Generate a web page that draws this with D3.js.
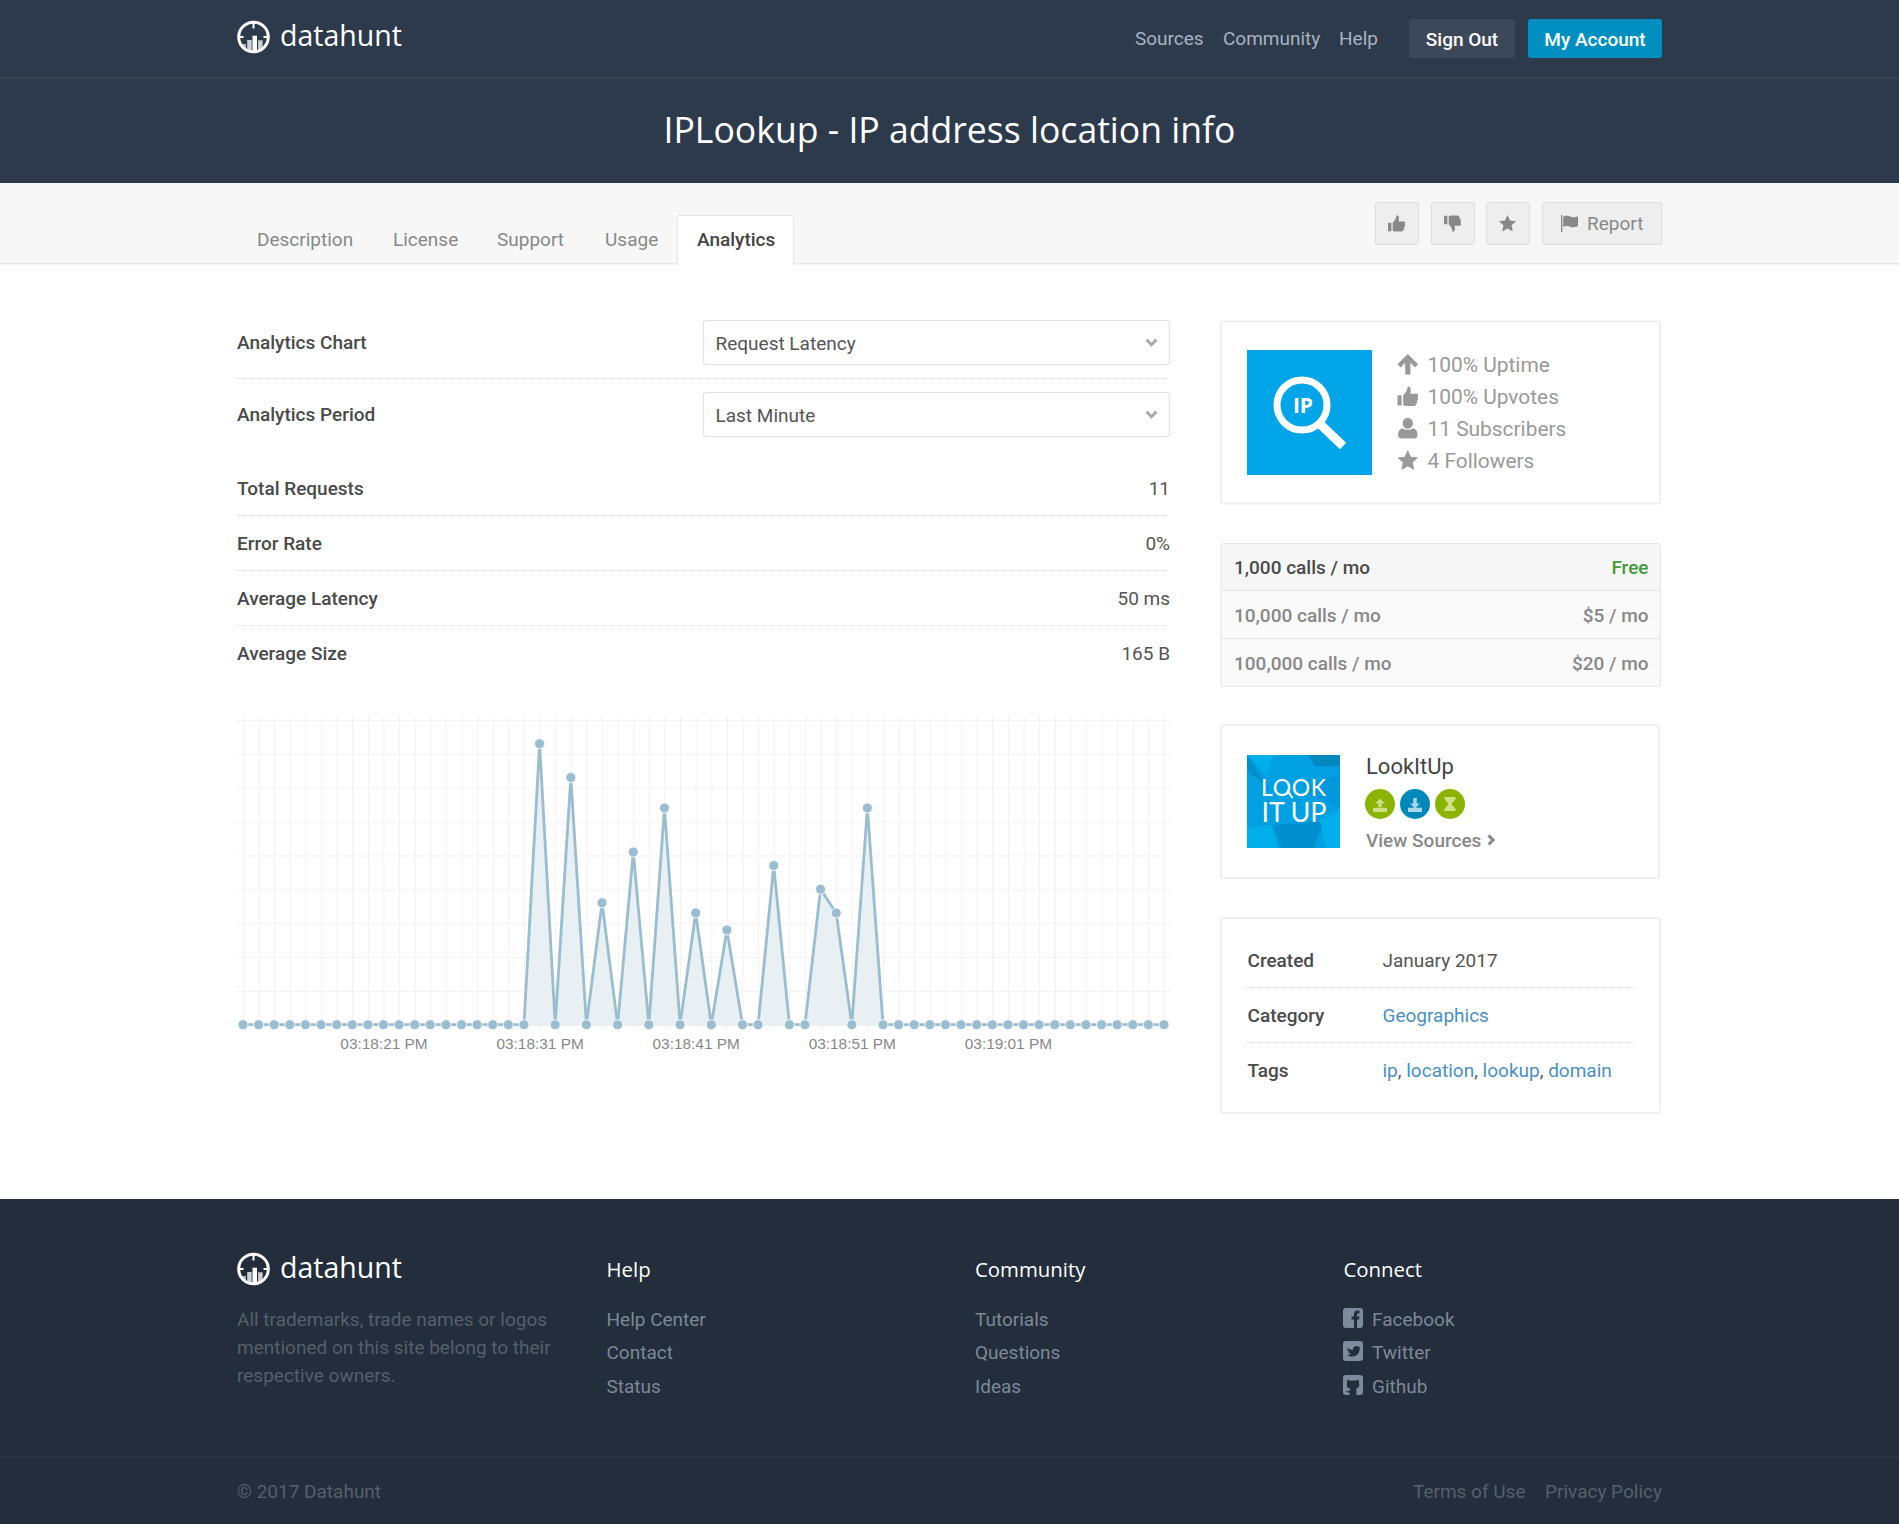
<!DOCTYPE html>
<html>
<head>
<meta charset="utf-8">
<title>IPLookup - Analytics</title>
<script src="https://d3js.org/d3.v7.min.js"></script>
<style>
html, body { margin: 0; padding: 0; background: #fff; }
svg { display: block; }
text { font-family: Roboto, sans-serif; }
.head { font-family: "Open Sans", sans-serif; }
.grid line { stroke: #f2f2f2; stroke-width: 1; }
.grid path { display: none; }
</style>
</head>
<body>
<div id="page"></div>
<script>
// chart data
var times = [
    "03:18:12 PM", "03:18:13 PM", "03:18:14 PM", "03:18:15 PM", "03:18:16 PM", "03:18:17 PM",
    "03:18:18 PM", "03:18:19 PM", "03:18:20 PM", "03:18:21 PM", "03:18:22 PM", "03:18:23 PM",
    "03:18:24 PM", "03:18:25 PM", "03:18:26 PM", "03:18:27 PM", "03:18:28 PM", "03:18:29 PM",
    "03:18:30 PM", "03:18:31 PM", "03:18:32 PM", "03:18:33 PM", "03:18:34 PM", "03:18:35 PM",
    "03:18:36 PM", "03:18:37 PM", "03:18:38 PM", "03:18:39 PM", "03:18:40 PM", "03:18:41 PM",
    "03:18:42 PM", "03:18:43 PM", "03:18:44 PM", "03:18:45 PM", "03:18:46 PM", "03:18:47 PM",
    "03:18:48 PM", "03:18:49 PM", "03:18:50 PM", "03:18:51 PM", "03:18:52 PM", "03:18:53 PM",
    "03:18:54 PM", "03:18:55 PM", "03:18:56 PM", "03:18:57 PM", "03:18:58 PM", "03:18:59 PM",
    "03:19:00 PM", "03:19:01 PM", "03:19:02 PM", "03:19:03 PM", "03:19:04 PM", "03:19:05 PM",
    "03:19:06 PM", "03:19:07 PM", "03:19:08 PM", "03:19:09 PM", "03:19:10 PM", "03:19:11 PM"
];
var latency = [
    0, 0, 0, 0, 0, 0, 0, 0, 0, 0, 0, 0, 0, 0, 0, 0, 0, 0, 0,
    83, 0, 73, 0, 36, 0, 51, 0, 64, 0, 33, 0, 28, 0, 0, 47, 0, 0, 40, 33, 0, 64,
    0, 0, 0, 0, 0, 0, 0, 0, 0, 0, 0, 0, 0, 0, 0, 0, 0, 0, 0
];
var tickLabels = ["03:18:21 PM", "03:18:31 PM", "03:18:41 PM", "03:18:51 PM", "03:19:01 PM"];
var yTicks = [0, 10, 20, 30, 40, 50, 60, 70, 80, 90];

// page text
var navLinks = ["Sources", "Community", "Help"];
var tabs = ["Description", "License", "Support", "Usage", "Analytics"];
var statLabels = ["Total Requests", "Error Rate", "Average Latency", "Average Size"];
var statValues = ["11", "0%", "50 ms", "165 B"];
var apiStats = ["100% Uptime", "100% Upvotes", "11 Subscribers", "4 Followers"];
var planNames = ["1,000 calls / mo", "10,000 calls / mo", "100,000 calls / mo"];
var planPrices = ["Free", "$5 / mo", "$20 / mo"];
var footerHeads = ["Help", "Community", "Connect"];
var footerLinks = [
    ["Help Center", "Contact", "Status"],
    ["Tutorials", "Questions", "Ideas"],
    ["Facebook", "Twitter", "Github"]
];
var footerNote = ["All trademarks, trade names or logos", "mentioned on this site belong to their", "respective owners."];

var svgWidth = 1899;
var svgHeight = 1524;

var svg = d3.select("#page")
    .append("svg")
    .attr("width", svgWidth)
    .attr("height", svgHeight);

function rect(x, y, w, h, fill, stroke, sw, r) {
    return svg.append("rect")
        .attr("x", x).attr("y", y).attr("width", w).attr("height", h)
        .attr("rx", r || 0)
        .attr("fill", fill)
        .attr("stroke", stroke || "none")
        .attr("stroke-width", sw || 0);
}

function label(x, y, str, size, color, weight, anchor, cls) {
    return svg.append("text")
        .attr("x", x).attr("y", y)
        .attr("class", cls || null)
        .style("font-size", size + "px")
        .style("font-weight", weight || 400)
        .style("fill", color)
        .style("text-anchor", anchor || "start")
        .text(str);
}

function dotted(x1, x2, y) {
    svg.append("line")
        .attr("x1", x1).attr("x2", x2).attr("y1", y).attr("y2", y)
        .attr("stroke", "#d8d8d8")
        .attr("stroke-dasharray", "1 1");
}

function icon(x, y, s, d, color) {
    svg.append("path")
        .attr("transform", `translate(${x},${y}) scale(${s})`)
        .attr("d", d)
        .attr("fill", color);
}

// 20x20 icon shapes
var starPath = "M10 0 L13 6.6 L20 7.4 L14.8 12.2 L16.2 19.4 L10 15.8 L3.8 19.4 L5.2 12.2 L0 7.4 L7 6.6 Z";
var thumbUp = "M0 9 H4 V19 H0 Z M5.5 9 C8 7 9.5 4 10 0.5 C12.5 0 13.5 2.5 12.5 7.5 H18.5 C20.5 7.5 20.5 10 19.5 10.5 C20.5 12 20 13.5 19 14 C19.5 15.5 19 17 18 17.2 C18 18.8 17 19.5 15.5 19.5 H9 C7.5 19.5 6.5 19 5.5 18.5 Z";
var thumbDown = "M0 1 H4 V11 H0 Z M5.5 11 C8 13 9.5 16 10 19.5 C12.5 20 13.5 17.5 12.5 12.5 H18.5 C20.5 12.5 20.5 10 19.5 9.5 C20.5 8 20 6.5 19 6 C19.5 4.5 19 3 18 2.8 C18 1.2 17 0.5 15.5 0.5 H9 C7.5 0.5 6.5 1 5.5 1.5 Z";
var arrowUp = "M10 0 L20 10 L17 13 L12.5 8.5 V20 H7.5 V8.5 L3 13 L0 10 Z";
var userPath = "M10 0 C13 0 15 2.4 15 5.2 C15 8 13 10.4 10 10.4 C7 10.4 5 8 5 5.2 C5 2.4 7 0 10 0 Z M5 10 C7.5 12 12.5 12 15 10 C18 10.5 19.5 13 19.5 16.5 C19.5 18.5 18 20 16 20 H4 C2 20 0.5 18.5 0.5 16.5 C0.5 13 2 10.5 5 10 Z";
var flagPath = "M0 0 H1.6 V20 H0 Z M2.6 2 C6 0 9 1 11 2 C14 3 17 2.6 20 1.4 V13 C17 14.4 14 15 11 14 C9 13 6 12 2.6 14 Z";
var chevronDown = "M2 5 L5 2 L10 7.5 L15 2 L18 5 L10 13 Z";
var chevronRight = "M5 2 L8 -1 L16 7 L8 15 L5 12 L10 7 Z";
var socialGlyphs = [
    "M11 20 V11.5 H8.5 V8.5 H11 V6 C11 3.5 12.5 2.5 14.5 2.5 H16.5 V5.5 H15 C14.2 5.5 14 6 14 6.8 V8.5 H16.5 L16 11.5 H14 V20 Z",
    "M3.5 6 C5.5 8 7.5 9 10 9 C9.8 6.5 11.5 5 13.2 5 C14.2 5 15 5.4 15.5 6 L17 5.5 L16.4 7 L17.5 6.8 L16.6 8 C16.8 12 13.5 15.5 9.5 15.5 C7.2 15.5 5.5 15 4 14 C5.5 14 7 13.6 8 12.8 C6.8 12.7 5.8 12 5.4 11 L6.6 11 C5.2 10.4 4.4 9.4 4.4 8 L5.6 8.4 C4.4 7.6 3.8 7 3.5 6 Z",
    "M4 8 L4.4 4.5 L7.5 5.8 C9 5.4 11 5.4 12.5 5.8 L15.6 4.5 L16 8 C17 11 15.5 13.4 12.6 13.8 C13.2 14.4 13.4 15 13.4 16 V20 H6.6 V17.6 C5 18 3.8 17.4 3 15.6 L5 16.2 L6.6 15.8 C6.6 15 6.8 14.4 7.4 13.8 C4.5 13.4 3 11 4 8 Z"
];

function logo(cx, cy, baseline) {
    var g = svg.append("g").attr("transform", `translate(${cx},${cy})`);
    var clipId = "logo-clip-" + cy;
    g.append("clipPath").attr("id", clipId).append("circle").attr("r", 14.5);
    g.append("g").attr("clip-path", `url(#${clipId})`)
        .selectAll("rect")
        .data([[-12, 7, "#aab1ba"], [-6.3, 3, "#ccd1d6"], [-1, -1.3, "#ffffff"], [4.6, 3.3, "#ccd1d6"]])
        .enter().append("rect")
        .attr("x", d => d[0]).attr("y", d => d[1])
        .attr("width", 4.5).attr("height", 20)
        .attr("fill", d => d[2]);
    g.append("circle").attr("r", 14.8).attr("fill", "none").attr("stroke", "#fff").attr("stroke-width", 3);
    g.append("path").attr("d", "M0 -15 V-8.5 M-15 0 H-10 M15 0 H10").attr("stroke", "#fff").attr("stroke-width", 2);
    label(cx + 26.5, baseline, "datahunt", 28.5, "#fff", 400, "start", "head");
}

// header
rect(0, 0, svgWidth, 183, "#2d3a4c");
rect(0, 77, svgWidth, 2, "#35424f");
logo(253.5, 37, 46);
navLinks.forEach(function (d, i) {
    label([1135, 1223, 1339][i], 45, d, 19, "#a7b3c1");
});
rect(1409, 19, 106, 39, "#3c4759", null, 0, 3);
label(1462, 46, "Sign Out", 19, "#fff", 500, "middle");
rect(1528, 19, 134, 39, "#008fc0", null, 0, 3);
label(1595, 46, "My Account", 19, "#fff", 500, "middle");
label(949.5, 143, "IPLookup - IP address location info", 35.6, "#fff", 400, "middle", "head");

// tab bar
rect(0, 183, svgWidth, 80, "#f7f7f7");
rect(0, 263, svgWidth, 1.5, "#e6e6e6");
rect(677.5, 215.5, 116, 50, "#fff", "#e6e6e6", 1, 2);
rect(678, 262, 115, 4, "#fff");
tabs.forEach(function (d, i) {
    label([257, 393, 497, 605, 697][i], 246, d, 19, i == 4 ? "#444" : "#888", i == 4 ? 500 : 400);
});

// vote buttons
[[1375, 43], [1431, 43], [1486, 43], [1542, 119.5]].forEach(function (b) {
    rect(b[0] + 0.5, 202.5, b[1], 42, "#eeeeee", "#dddddd", 1, 2);
});
icon(1388, 215, 0.85, thumbUp, "#888");
icon(1444, 215, 0.85, thumbDown, "#888");
icon(1499, 215, 0.85, starPath, "#888");
icon(1561, 215, 0.85, flagPath, "#888");
label(1587, 230, "Report", 19, "#888");

// select boxes and stats
["Analytics Chart", "Analytics Period"].forEach(function (d, i) {
    var top = [320, 392][i];
    label(237, top + 29, d, 19, "#4a4a4a", 500);
    rect(703.5, top + 0.5, 466, 44, "#fff", "#e2e2e2", 1.2, 3);
    label(715.5, top + 30, ["Request Latency", "Last Minute"][i], 19, "#555");
    icon(1144, top + 17, 0.75, chevronDown, "#aaa");
});
dotted(237, 1169, 378.5);
statLabels.forEach(function (d, i) {
    var y = 495 + i * 55;
    label(237, y, d, 19, "#4a4a4a", 500);
    label(1170, y, statValues[i], 19, "#555", 400, "end");
    if (i < 3) dotted(237, 1169, y + 20.5);
});

// chart
var chartLeft = 243;
var chartRight = 1164;
var chartTop = 720;
var chartBottom = 1024.7;

var xScale = d3.scalePoint()
    .domain(times)
    .range([chartLeft, chartRight]);

var yScale = d3.scaleLinear()
    .domain([0, 90])
    .range([chartBottom, chartTop]);

var bottomAxis = d3.axisBottom(xScale)
    .tickValues(times)
    .tickSize(0)
    .tickFormat(d => tickLabels.includes(d) ? d : "");

var leftAxis = d3.axisLeft(yScale)
    .tickValues(yTicks)
    .tickSize(chartRight - chartLeft + 12)
    .tickFormat("");

svg.append("g")
    .attr("class", "grid")
    .attr("transform", `translate(${chartRight + 6}, 0)`)
    .call(leftAxis);

var xAxis = svg.append("g")
    .attr("class", "grid")
    .attr("transform", `translate(0, ${chartBottom})`)
    .call(bottomAxis);

xAxis.selectAll("line")
    .attr("y1", 5)
    .attr("y2", chartTop - chartBottom - 4);

xAxis.selectAll("text")
    .attr("y", 24)
    .attr("dy", 0)
    .style("font-family", "'Liberation Sans', Arial, sans-serif")
    .style("font-size", "15.4px")
    .style("fill", "#888");

var area = d3.area()
    .x((d, i) => xScale(times[i]))
    .y0(chartBottom + 1)
    .y1(d => yScale(d));

var line = d3.line()
    .x((d, i) => xScale(times[i]))
    .y(d => yScale(d));

svg.append("path")
    .datum(latency)
    .attr("d", area)
    .attr("fill", "#e9f0f4");

svg.append("path")
    .datum(latency)
    .attr("d", line)
    .attr("fill", "none")
    .attr("stroke", "#9abdd0")
    .attr("stroke-width", 2.8);

svg.selectAll(".point")
    .data(latency)
    .enter()
    .append("circle")
    .attr("class", "point")
    .attr("cx", (d, i) => xScale(times[i]))
    .attr("cy", d => yScale(d))
    .attr("r", 5)
    .attr("fill", "#9abdd0")
    .attr("stroke", "#f4f8fa")
    .attr("stroke-width", 1);

// API card
rect(1221, 321.5, 439, 182, "#fff", "#f0f0f0", 2, 2);
rect(1247, 350, 125, 125, "#03a5e9");
svg.append("circle").attr("cx", 1302).attr("cy", 405).attr("r", 25)
    .attr("fill", "none").attr("stroke", "#fff").attr("stroke-width", 7);
svg.append("line").attr("x1", 1320).attr("y1", 424).attr("x2", 1343).attr("y2", 446)
    .attr("stroke", "#fff").attr("stroke-width", 9);
label(1303, 413, "IP", 21, "#fff", 700, "middle", "head");
[arrowUp, thumbUp, userPath, starPath].forEach(function (d, i) {
    icon(1397.5, 354 + i * 32, 1.03, d, "#999");
    label(1427.5, 372 + i * 32, apiStats[i], 20.9, "#999");
});

// pricing
rect(1221, 543.5, 439.5, 143, "#fafafa", "#e6e6e6", 1.2, 3);
rect(1222, 544, 438, 46, "#f6f6f6");
[590, 638].forEach(function (y) { rect(1222, y, 438, 1.2, "#e6e6e6"); });
planNames.forEach(function (d, i) {
    var y = 574 + i * 48;
    label(1234, y, d, 19, i == 0 ? "#4a4a4a" : "#888", 500);
    label(1648.5, y, planPrices[i], 19, i == 0 ? "#43993b" : "#888", 500, "end");
});

// provider card
rect(1221, 725, 438, 153, "#fff", "#f0f0f0", 2, 2);
rect(1247, 755, 93, 93, "#00a0e3");
var tileColors = ["#0090d0", "#0088bf", "#00aee9", "#0090d0", "#00aee9", "#0098dc", "#00aee9"];
var tilePolys = [
    "6,6 70,100 6,55",
    "190,6 285,6 285,40 210,40",
    "6,6 85,6 65,70",
    "80,215 240,205 205,285 110,285",
    "285,170 285,285 240,285 225,200",
    "190,100 285,60 285,160 200,130",
    "6,225 80,215 100,285 6,285"
];
svg.selectAll(".tile")
    .data(tilePolys)
    .enter().append("polygon")
    .attr("class", "tile")
    .attr("transform", "translate(1245,753) scale(0.3333)")
    .attr("points", d => d)
    .attr("fill", (d, i) => tileColors[i]);
label(1261, 796, "LOOK", 23, "#fff", 400, "start").style("font-family", "Lato, sans-serif").attr("textLength", 65);
label(1261.5, 822, "IT UP", 27, "#fff", 400, "start").style("font-family", "Lato, sans-serif").attr("textLength", 65);
svg.append("line").attr("x1", 1287).attr("y1", 790).attr("x2", 1292.5).attr("y2", 798)
    .attr("stroke", "#fff").attr("stroke-width", 2);
label(1366, 774, "LookItUp", 22, "#444");
["#8ab400", "#0088bb", "#8ab400"].forEach(function (c, i) {
    var cx = 1380 + i * 35;
    svg.append("circle").attr("cx", cx).attr("cy", 804).attr("r", 15).attr("fill", c);
});
icon(1373, 798, 0.7, "M7.5 8 H3 L10 1 L17 8 H12.5 V13 H7.5 Z M0 14 H20 V20 H0 Z", "#cfe08a");
icon(1408, 798, 0.7, "M7.5 0 H12.5 V8 H17 L10 15 L3 8 H7.5 Z M0 14 H20 V20 H0 Z", "#a9d6e8");
icon(1443, 797, 0.7, "M2 0 H18 V3 L12 10 L18 17 V20 H2 V17 L8 10 L2 3 Z", "#cfe08a");
label(1366, 847, "View Sources", 19, "#888", 500);
icon(1484, 835, 0.7, chevronRight, "#888");

// details card
rect(1221, 918, 439, 195, "#fff", "#f0f0f0", 2, 2);
["Created", "Category", "Tags"].forEach(function (d, i) {
    label(1247.5, [967, 1022, 1077][i], d, 19, "#4a4a4a", 500);
});
label(1382.5, 967, "January 2017", 19, "#555");
label(1382.5, 1022, "Geographics", 19, "#4a8fc4");
var tagText = label(1382.5, 1077, "", 19, "#555");
["ip", "location", "lookup", "domain"].forEach(function (d, i) {
    if (i > 0) tagText.append("tspan").text(", ");
    tagText.append("tspan").style("fill", "#4a8fc4").text(d);
});
dotted(1247, 1634, 987.5);
dotted(1247, 1634, 1042.5);

// footer
rect(0, 1199, svgWidth, 325, "#232d3b");
rect(0, 1456, svgWidth, 2, "#2b3543");
logo(253.5, 1269, 1278);
footerNote.forEach(function (d, i) {
    label(237, 1326 + i * 28, d, 19, "#565f6d");
});
footerHeads.forEach(function (d, i) {
    var x = [606.5, 975, 1343.5][i];
    label(x, 1277, d, 20.4, "#fff", 500, "start", "head");
    footerLinks[i].forEach(function (l, j) {
        var y = [1326, 1359, 1393][j];
        if (i == 2) {
            rect(1343, y - 18, 20, 20, "#7d8b9c", null, 0, 3);
            icon(1343, y - 18, 1, socialGlyphs[j], "#232d3b");
            label(1372, y, l, 19, "#7d8899");
        } else {
            label(x, y, l, 19, "#7d8899");
        }
    });
});
label(237, 1498, "© 2017 Datahunt", 19, "#565f6d");
label(1413, 1498, "Terms of Use", 19, "#565f6d");
label(1662, 1498, "Privacy Policy", 19, "#565f6d", 400, "end");
</script>
</body>
</html>
